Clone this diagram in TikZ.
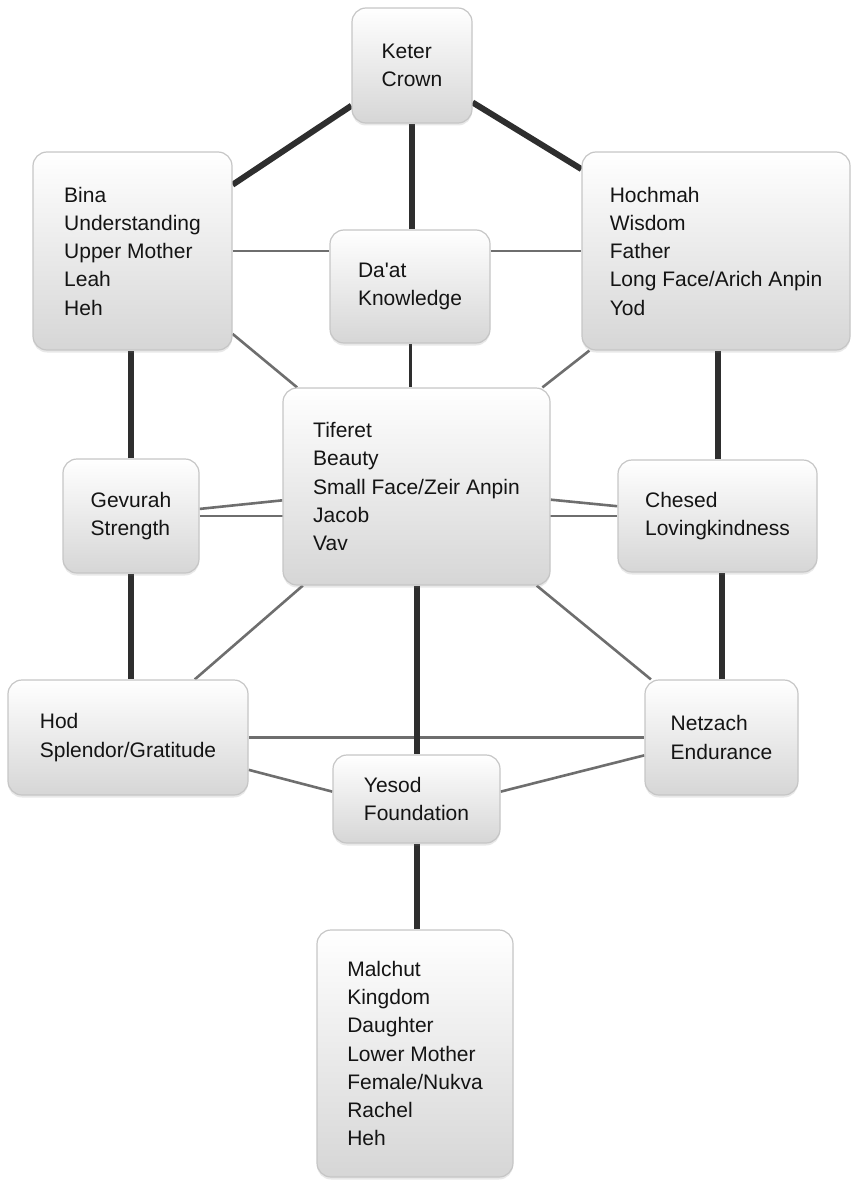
\documentclass[tikz,border=0pt]{standalone}
\usepackage{fontspec}
\setmainfont{Liberation Sans}
\usetikzlibrary{backgrounds, shadows}
\definecolor{SefiraEdge}{HTML}{C6C6C6}
\definecolor{SefiraShade}{HTML}{D6D6D6}
\definecolor{PillarInk}{HTML}{2E2E2E}
\definecolor{ChannelInk}{HTML}{6E6E6E}
\definecolor{LabelInk}{HTML}{141414}

\tikzset{
  sefira/.style={draw=SefiraEdge, line width=1.2pt, rounded corners=14pt,
    top color=white, middle color=white!94!SefiraShade, bottom color=SefiraShade,
    drop shadow={shadow xshift=0pt, shadow yshift=-2.5pt, opacity=0.18},
    align=left, text=LabelInk, inner sep=0pt,
    font=\fontsize{21}{28.25}\selectfont},
  pillar/.style={PillarInk, line width=6pt},
  link/.style={PillarInk, line width=3pt},
  channel/.style={ChannelInk, line width=2.6pt}
}

\begin{document}
\begin{tikzpicture}[x=1pt, y=-1pt]
  \useasboundingbox (0,0) rectangle (852,1188);

  % Upper triad
  \node[sefira, minimum width=120pt, minimum height=115pt] (keter) at (412,65.5) {Keter\\Crown};
  \node[sefira, minimum width=199pt, minimum height=198pt] (bina) at (132.5,251) {Bina\\Understanding\\Upper Mother\\Leah\\Heh};
  \node[sefira, minimum width=268pt, minimum height=198pt] (hochmah) at (716,251) {Hochmah\\Wisdom\\Father\\Long Face/Arich Anpin\\Yod};
  \node[sefira, minimum width=160pt, minimum height=113pt] (daat) at (410,286.5) {Da\textquotesingle at\\Knowledge};

  % Middle triad
  \node[sefira, minimum width=267pt, minimum height=197pt] (tiferet) at (416.5,486.5) {Tiferet\\Beauty\\Small Face/Zeir Anpin\\Jacob\\Vav};
  \node[sefira, minimum width=136pt, minimum height=114pt] (gevurah) at (131,516) {Gevurah\\Strength};
  \node[sefira, minimum width=199pt, minimum height=112pt] (chesed) at (717.5,516) {Chesed\\Lovingkindness};

  % Lower triad
  \node[sefira, minimum width=240pt, minimum height=115pt] (hod) at (128,737.5) {Hod\\Splendor/Gratitude};
  \node[sefira, minimum width=153pt, minimum height=115pt] (netzach) at (721.5,737.5) {Netzach\\Endurance};
  \node[sefira, minimum width=167pt, minimum height=88pt] (yesod) at (416.5,799) {Yesod\\Foundation};

  % Kingdom
  \node[sefira, minimum width=196pt, minimum height=247pt] (malchut) at (415,1053.5) {Malchut\\Kingdom\\Daughter\\Lower Mother\\Female/Nukva\\Rachel\\Heh};

  % Paths
  \begin{scope}[on background layer]
    \draw[channel] (bina) -- (daat.west |- bina);
    \draw[channel] (daat.east |- hochmah) -- (hochmah);
    \draw[channel] (bina) -- (tiferet);
    \draw[channel] (hochmah) -- (tiferet);
    \draw[channel] (gevurah) -- (tiferet);
    \draw[channel] (tiferet) -- (chesed);
    \draw[channel] (gevurah) -- (chesed);
    \draw[channel] (tiferet) -- (hod);
    \draw[channel] (tiferet) -- (netzach);
    \draw[channel] (hod) -- (netzach);
    \draw[channel] (hod.-15) -- (yesod.175);
    \draw[channel] (netzach.193) -- (yesod.5);

    \draw[link] (daat.south) -- (daat.south |- tiferet.north);

    \draw[pillar] (keter) -- (bina);
    \draw[pillar] (keter) -- (hochmah);
    \draw[pillar] (keter.south) -- (keter.south |- daat.north);
    \draw[pillar] (gevurah.north) -- (gevurah.north |- bina.south);
    \draw[pillar] (gevurah.south) -- (gevurah.south |- hod.north);
    \draw[pillar] (chesed.north) -- (chesed.north |- hochmah.south);
    \draw[pillar] (netzach.north) -- (netzach.north |- chesed.south);
    \draw[pillar] (tiferet.south) -- (tiferet.south |- yesod.north);
    \draw[pillar] (yesod.south) -- (yesod.south |- malchut.north);
  \end{scope}
\end{tikzpicture}
\end{document}
